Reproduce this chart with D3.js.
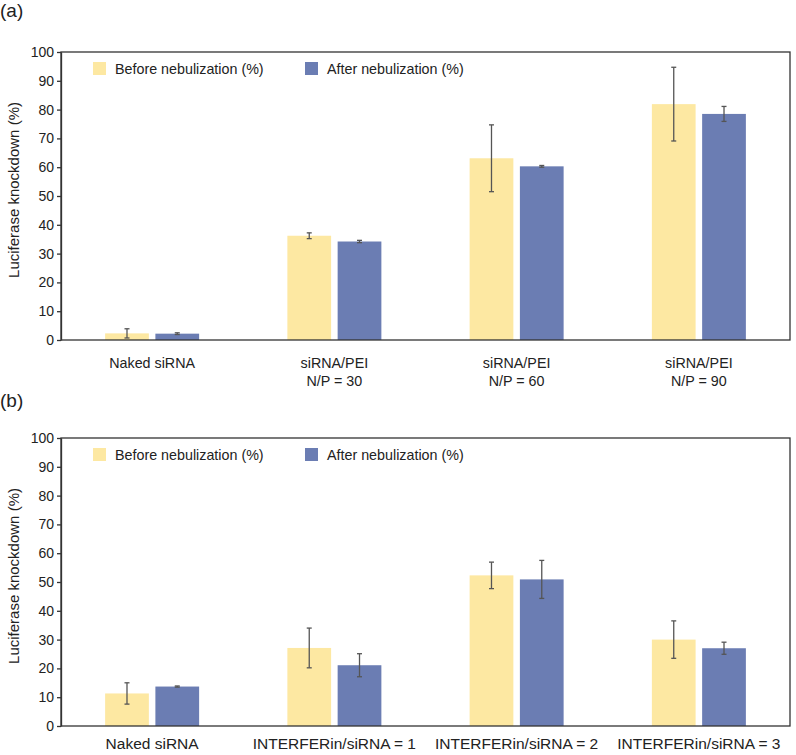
<!DOCTYPE html>
<html>
<head>
<meta charset="utf-8">
<title>luciferase knockdown</title>
<script src="https://cdn.jsdelivr.net/npm/d3@7"></script>
<style>
    body { margin: 0; background: #fff; }
    text { font-family: "Liberation Sans", Arial, sans-serif; fill: #222; }
    .axis text { font-size: 14px; }
    .axis path, .axis line { stroke: #333; stroke-width: 1.3; }
</style>
</head>
<body>
<script>
    // panel (a)
    var catsA = [['Naked siRNA'], ['siRNA/PEI', 'N/P = 30'], ['siRNA/PEI', 'N/P = 60'], ['siRNA/PEI', 'N/P = 90']];
    var beforeA = [2.3, 36.2, 63.1, 81.9];
    var beforeErrA = [1.6, 1.0, 11.6, 12.8];
    var afterA = [2.2, 34.2, 60.3, 78.5];
    var afterErrA = [0.3, 0.4, 0.3, 2.6];

    // panel (b)
    var catsB = [['Naked siRNA'], ['INTERFERin/siRNA = 1'], ['INTERFERin/siRNA = 2'], ['INTERFERin/siRNA = 3']];
    var beforeB = [11.3, 27.1, 52.3, 30.0];
    var beforeErrB = [3.7, 6.9, 4.6, 6.5];
    var afterB = [13.7, 21.1, 50.9, 27.0];
    var afterErrB = [0.2, 4.0, 6.6, 2.1];

    var yTicks = [0, 10, 20, 30, 40, 50, 60, 70, 80, 90, 100];
    var series = ['Before nebulization (%)', 'After nebulization (%)'];
    var colors = ['#fde8a2', '#6b7db3'];

    var W = 796, H = 755;
    var left = 61, right = 790;

    var svg = d3.select('body').append('svg')
        .attr('width', W)
        .attr('height', H);

    function panel(label, labelY, top, cats, catY, catSize, before, bErr, after, aErr) {
        var plotH = 288;
        var g = svg.append('g');

        var x = d3.scaleBand()
            .domain(d3.range(cats.length))
            .range([left, right]);
        var y = d3.scaleLinear()
            .domain([0, 100])
            .range([top + plotH, top]);
        var inner = d3.scaleBand()
            .domain([0, 1])
            .range([0, 94])
            .paddingInner(0.13);

        g.append('text')
            .attr('x', 0)
            .attr('y', labelY)
            .style('font-size', '19px')
            .text(label);

        // bars
        var rows = cats.map(function(c, i) {
            return [
                { i: i, s: 0, v: before[i], e: bErr[i] },
                { i: i, s: 1, v: after[i], e: aErr[i] }
            ];
        });
        var bars = g.selectAll('g.grp')
            .data(rows).enter()
            .append('g')
            .attr('transform', function(d, i) {
                return 'translate(' + (x(i) + x.bandwidth() / 2 - 47) + ',0)';
            });

        bars.selectAll('rect')
            .data(function(d) { return d; }).enter()
            .append('rect')
            .attr('x', function(d) { return inner(d.s); })
            .attr('width', inner.bandwidth())
            .attr('y', function(d) { return y(d.v); })
            .attr('height', function(d) { return y(0) - y(d.v); })
            .style('fill', function(d) { return colors[d.s]; });

        var err = bars.selectAll('g.err')
            .data(function(d) { return d; }).enter()
            .append('g')
            .attr('transform', function(d) {
                return 'translate(' + (inner(d.s) + inner.bandwidth() / 2) + ',0)';
            })
            .style('stroke', '#555')
            .style('stroke-width', 1.3);
        err.append('line')
            .attr('y1', function(d) { return y(d.v + d.e); })
            .attr('y2', function(d) { return y(d.v - d.e); });
        err.append('line')
            .attr('x1', -2.5).attr('x2', 2.5)
            .attr('y1', function(d) { return y(d.v + d.e); })
            .attr('y2', function(d) { return y(d.v + d.e); });
        err.append('line')
            .attr('x1', -2.5).attr('x2', 2.5)
            .attr('y1', function(d) { return y(d.v - d.e); })
            .attr('y2', function(d) { return y(d.v - d.e); });

        // frame
        g.append('rect')
            .attr('x', left)
            .attr('y', top)
            .attr('width', right - left)
            .attr('height', plotH)
            .style('fill', 'none')
            .style('stroke', '#333')
            .style('stroke-width', 1.3);

        g.append('g')
            .classed('axis', true)
            .attr('transform', 'translate(' + left + ',0)')
            .call(d3.axisLeft(y).tickValues(yTicks).tickSize(4).tickPadding(3).tickSizeOuter(0));

        // category labels
        var labs = g.selectAll('text.cat')
            .data(cats).enter()
            .append('text')
            .attr('class', 'cat')
            .attr('text-anchor', 'middle')
            .style('font-size', catSize + 'px')
            .attr('transform', function(d, i) {
                return 'translate(' + (x(i) + x.bandwidth() / 2) + ',' + (top + plotH + catY) + ')';
            });
        labs.selectAll('tspan')
            .data(function(d) { return d; }).enter()
            .append('tspan')
            .attr('x', 0)
            .attr('dy', function(d, i) { return i === 0 ? 0 : 18; })
            .text(function(d) { return d; });

        g.append('text')
            .attr('transform', 'translate(19,' + (top + plotH / 2 - 6) + ') rotate(-90)')
            .attr('text-anchor', 'middle')
            .style('font-size', '15px')
            .text('Luciferase knockdown (%)');

        // legend
        var lx = [93, 305];
        var leg = g.selectAll('g.leg')
            .data(series).enter()
            .append('g')
            .attr('transform', function(d, i) {
                return 'translate(' + lx[i] + ',' + (top + 10) + ')';
            });
        leg.append('rect')
            .attr('width', 13)
            .attr('height', 13)
            .style('fill', function(d, i) { return colors[i]; });
        leg.append('text')
            .attr('x', 22)
            .attr('y', 12)
            .style('font-size', '14.3px')
            .text(function(d) { return d; });
    }

    panel('(a)', 17, 52, catsA, 28, 14.3, beforeA, beforeErrA, afterA, afterErrA);
    panel('(b)', 407, 438, catsB, 23, 15.5, beforeB, beforeErrB, afterB, afterErrB);
</script>
</body>
</html>
